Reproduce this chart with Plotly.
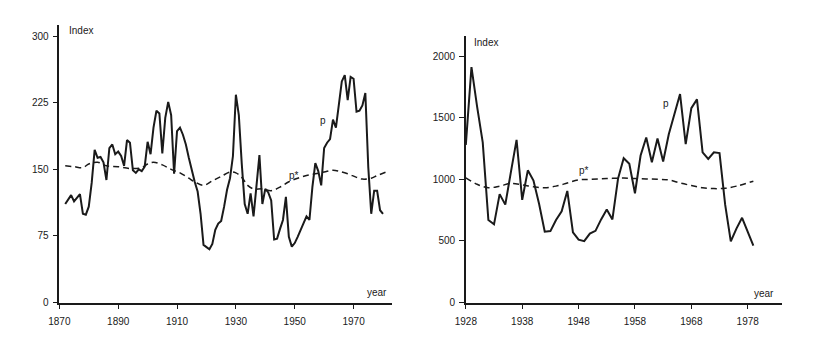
import plotly.graph_objects as go

W, H = 821, 342

# ---------------- Left panel data (1870-1980) ----------------
left_years = list(range(1872, 1981))
left_p = [111, 116, 121, 114, 118, 122, 100, 99, 108, 135,
          172, 163, 164, 158, 138, 174, 178, 167, 170, 165,
          154, 183, 180, 149, 146, 150, 148, 153, 181, 167,
          197, 216, 213, 168, 208, 226, 211, 145, 193, 197,
          189, 178, 163, 148, 136, 125, 100, 65, 62, 60,
          66, 82, 89, 92, 108, 127, 140, 165, 234, 211,
          156, 111, 100, 123, 97, 134, 166, 111, 128, 124,
          115, 71, 72, 83, 93, 119, 74, 63, 67, 74,
          82, 89, 97, 93, 130, 157, 148, 132, 174, 180,
          184, 206, 197, 223, 249, 256, 228, 254, 252, 215,
          216, 222, 236, 152, 100, 126, 126, 104, 100]
left_star_years = [1872, 1875, 1878, 1880, 1883, 1886, 1890, 1894, 1898, 1900,
                   1902, 1905, 1908, 1911, 1914, 1916, 1919, 1922, 1925, 1928,
                   1930, 1932, 1934, 1936, 1939, 1942, 1945, 1948, 1951, 1954,
                   1957, 1960, 1963, 1965, 1968, 1971, 1973, 1976, 1978, 1981]
left_star = [154, 153, 152, 156, 158, 154, 153, 151, 152, 156,
             158, 155, 150, 146, 140, 136, 132, 137, 142, 147,
             146, 141, 132, 128, 128, 126, 130, 136, 140, 143,
             145, 147, 149, 148, 145, 141, 139, 140, 143, 147]
left_xticks = [1870, 1890, 1910, 1930, 1950, 1970]
left_yticks = [0, 75, 150, 225, 300]

# ---------------- Right panel data (1928-1979) ----------------
right_years = list(range(1928, 1980))
right_p = [1280, 1910, 1590, 1300, 670, 635, 880, 795, 1060, 1320,
           834, 1073, 990, 800, 575, 580, 670, 740, 906, 570,
           510, 498, 560, 582, 675, 755, 675, 1006, 1171, 1126,
           887, 1193, 1339, 1139, 1331, 1145, 1365, 1524, 1692, 1285,
           1578, 1649, 1219, 1166, 1219, 1213, 794, 496, 600, 688,
           568, 462]
right_star_years = [1928, 1930, 1932, 1934, 1936, 1938, 1940, 1942, 1944, 1946,
                    1948, 1950, 1953, 1956, 1958, 1962, 1964, 1966, 1968, 1970,
                    1972, 1974, 1976, 1979]
right_star = [1012, 960, 932, 945, 967, 955, 940, 932, 945, 970,
              995, 1000, 1006, 1010, 1006, 1000, 995, 970, 950, 932,
              925, 927, 945, 985]
right_xticks = [1928, 1938, 1948, 1958, 1968, 1978]
right_yticks = [0, 500, 1000, 1500, 2000]

INK = "#1a1a1a"
FONT = "Liberation Sans"


def px(x):
    return x / W


def py(y):
    return 1 - y / H


fig = go.Figure()
fig.add_trace(go.Scatter(x=left_years, y=left_p, mode="lines",
                         line=dict(color=INK, width=2), xaxis="x", yaxis="y"))
fig.add_trace(go.Scatter(x=left_star_years, y=left_star, mode="lines",
                         line=dict(color=INK, width=1.5, dash="6px,4px", shape="spline"),
                         xaxis="x", yaxis="y"))
fig.add_trace(go.Scatter(x=right_years, y=right_p, mode="lines",
                         line=dict(color=INK, width=2), xaxis="x2", yaxis="y2"))
fig.add_trace(go.Scatter(x=right_star_years, y=right_star, mode="lines",
                         line=dict(color=INK, width=1.5, dash="6px,4px", shape="spline"),
                         xaxis="x2", yaxis="y2"))

axis_common = dict(showline=True, linecolor=INK, linewidth=1.5, ticks="outside",
                   ticklen=5, tickwidth=1, tickcolor=INK, showgrid=False,
                   zeroline=False, tickfont=dict(family=FONT, size=10, color=INK))

fig.update_layout(
    width=W, height=H, margin=dict(l=0, r=0, t=0, b=0),
    paper_bgcolor="white", plot_bgcolor="white", showlegend=False,
    xaxis=dict(domain=[px(49), px(386)], range=[1870, 1983], tickvals=left_xticks,
               anchor="y", ticklabelstandoff=4, **axis_common),
    yaxis=dict(domain=[py(308), py(25)], range=[0, 313], tickvals=left_yticks,
               anchor="x", ticklabelstandoff=2, **axis_common),
    xaxis2=dict(domain=[px(461), px(781)], range=[1928, 1984], tickvals=right_xticks,
                anchor="y2", ticklabelstandoff=4, **axis_common),
    yaxis2=dict(domain=[py(308), py(37)], range=[0, 2160], tickvals=right_yticks,
                anchor="x2", ticklabelstandoff=2, **axis_common),
)

ann_font = dict(family=FONT, size=10, color=INK)
labels = [
    ("Index", 57, 31, "left"),
    ("year", 383, 298, "right"),
    ("p", 316, 123, "center"),
    ("p*", 287, 179, "center"),
    ("Index", 467, 43, "left"),
    ("year", 775, 299, "right"),
    ("p", 664, 105, "center"),
    ("p*", 581, 174, "center"),
]
for text, x, y, anchor in labels:
    fig.add_annotation(text=text, x=px(x), y=py(y), xref="paper", yref="paper",
                       xanchor=anchor, yanchor="middle", showarrow=False,
                       font=ann_font)

fig.write_html("out.html")
